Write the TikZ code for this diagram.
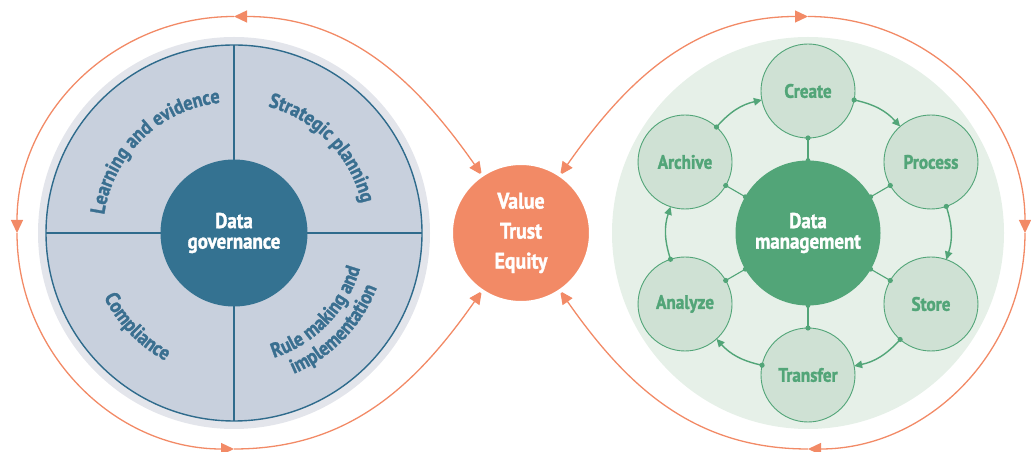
\documentclass[tikz,border=0pt]{standalone}
\usepackage{fontspec}
\setmainfont{PT Sans}[FakeStretch=0.88, BoldFeatures={FakeBold=1.5}]
\usetikzlibrary{arrows.meta,decorations.text,calc}
\definecolor{govring}{HTML}{E3E5EB}
\definecolor{govfill}{HTML}{C8D0DD}
\definecolor{govline}{HTML}{2F6B8C}
\definecolor{govblue}{HTML}{347291}
\definecolor{govtext}{HTML}{3A6F90}
\definecolor{orangec}{HTML}{F28A66}
\definecolor{dmgreen}{HTML}{52A578}
\definecolor{smfill}{HTML}{CFE1D4}
\definecolor{bggreen}{HTML}{E6F0E8}
\pgfdeclarelayer{bg}
\pgfsetlayers{bg,main}
\begin{document}
\begin{tikzpicture}[x=1pt,y=1pt,
  loopline/.style={draw=orangec, line width=1.3pt, >={Triangle[length=13pt,width=12pt]}},
  bigdisk/.style={circle, inner sep=0pt, outer sep=0pt, minimum size=#1},
  hubnode/.style={circle, inner sep=0pt, outer sep=0pt, minimum size=147pt, text=white, align=center, font=\bfseries\fontsize{21.5}{20.5}\selectfont},
  small/.style={circle, draw=dmgreen, line width=0.9pt, fill=smfill, minimum size=94pt, inner sep=0pt, outer sep=0pt, text=dmgreen, font=\bfseries\fontsize{19.5}{20}\selectfont},
  garrow/.style={draw=dmgreen, line width=1.4pt, -{Triangle[length=8pt,width=7.5pt]}},
  spoke/.style={draw=dmgreen, line width=1.1pt},
  quad/.style={draw=govline, line width=1.4pt},
  arctext/.style={decorate, decoration={text along path, text align=center, text color=govtext, text={|\bfseries\fontsize{20.5}{20}\selectfont|#1}}},
]
\useasboundingbox (0,0) rectangle (1031,452);

% ---------- left: data governance ----------
\node[bigdisk=392pt, fill=govring] (ring) at (234,219) {};
\node[bigdisk=376pt, fill=govfill, draw=govline, line width=1.4pt] (inner) at (234,219) {};
\draw[quad] (inner.north) -- (inner.south);
\draw[quad] (inner.west) -- (inner.east);

\path[arctext={Learning and evidence}] ([shift={(234,219)}]194:131) arc[start angle=194, end angle=74, radius=131];
\path[arctext={Strategic planning}] ([shift={(234,219)}]104:131) arc[start angle=104, end angle=-16, radius=131];
\path[arctext={Compliance}] ([shift={(234,219)}]164:145) arc[start angle=164, end angle=284, radius=145];
\path[arctext={Rule making and}] ([shift={(234,219)}]-104:131) arc[start angle=-104, end angle=16, radius=131];
\path[arctext={implementation}] ([shift={(234,219)}]-104:153) arc[start angle=-104, end angle=16, radius=153];

\node[hubnode, fill=govblue] (gov) at (234,219) {Data\\governance};

% ---------- right: data management ----------
\node[bigdisk=392pt, fill=bggreen] (dmbg) at (808,219) {};
\node[hubnode, fill=dmgreen, minimum size=145pt] (dm) at (808,219) {Data\\management};

\node[small] (create)   at ([shift={(808,219)}]90:142)   {Create};
\node[small] (process)  at ([shift={(808,219)}]30:142)   {Process};
\node[small] (store)    at ([shift={(808,219)}]-30:142)  {Store};
\node[small] (transfer) at ([shift={(808,219)}]-90:142)  {Transfer};
\node[small] (analyze)  at ([shift={(808,219)}]-150:142) {Analyze};
\node[small] (archive)  at ([shift={(808,219)}]150:142)  {Archive};

\foreach \n/\a/\b in {create/90/270, process/30/210, store/-30/150, transfer/-90/90, analyze/-150/30, archive/150/-30}{
  \draw[spoke] (dm.\a) -- (\n.\b);
  \fill[dmgreen] (dm.\a) circle (2.4);
  \fill[dmgreen] (\n.\b) circle (2.6);
}

\foreach \s/\sa/\t/\ta in {archive/48.5/create/191.5, create/-11.5/process/131.5, process/-71.5/store/71.5, store/-131.5/transfer/11.5, transfer/168.5/analyze/-48.5, analyze/108.5/archive/-108.5}{
  \draw[garrow] (\s.\sa) to[bend left=18] (\t.\ta);
  \fill[dmgreen] (\s.\sa) circle (2.6);
}

% ---------- centre ----------
\node[circle, fill=orangec, draw=white, line width=4pt, minimum size=140pt, inner sep=0pt, outer sep=0pt, text=white, align=center, font=\bfseries\fontsize{22.5}{30}\selectfont] (val) at (521,219) {Value\\Trust\\Equity};

\begin{pgfonlayer}{bg}
\coordinate (T1) at (234,435.5);
\coordinate (L1) at (17,219);
\coordinate (B1) at (234,3);
\coordinate (T2) at (808,435.5);
\coordinate (R2) at (1025,219);
\coordinate (B2) at (808,3);
\draw[loopline,<->] (val.124) to[out=125,in=0] (T1);
\draw[loopline,->] (T1) to[out=180,in=90] (L1);
\draw[loopline,->] (L1) to[out=-90,in=180] (B1);
\draw[loopline,->] (B1) to[out=0,in=235] (val.236);
\draw[loopline,<->] (val.56) to[out=55,in=180] (T2);
\draw[loopline,->] (T2) to[out=0,in=90] (R2);
\draw[loopline,->] (R2) to[out=-90,in=0] (B2);
\draw[loopline,->] (B2) to[out=180,in=-55] (val.-56);
\end{pgfonlayer}
\end{tikzpicture}
\end{document}
